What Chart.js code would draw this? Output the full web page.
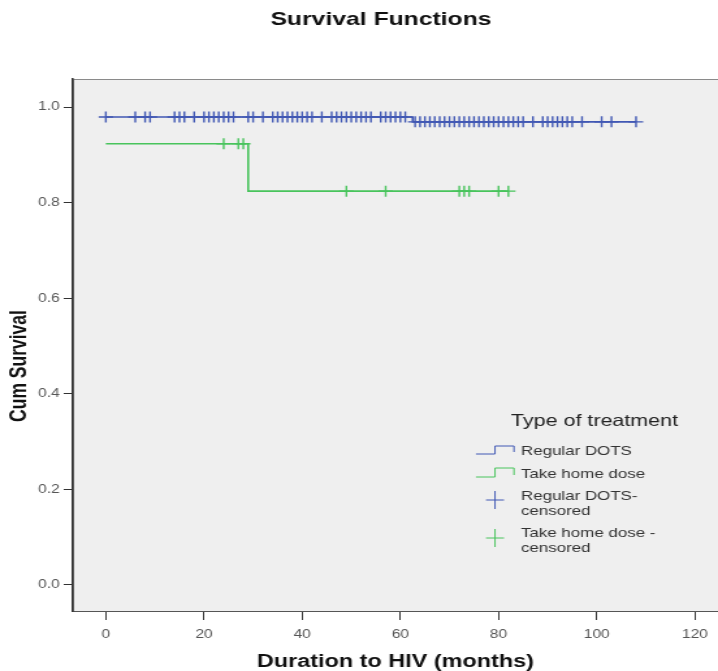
<!DOCTYPE html>
<html>
<head>
<meta charset="utf-8">
<title>Survival Functions</title>
<script src="https://cdn.jsdelivr.net/npm/chart.js@4/dist/chart.umd.min.js"></script>
<style>
  html, body { margin: 0; padding: 0; background: #ffffff; }
  #wrap { width: 718px; height: 671px; overflow: hidden; }
  /* the source picture is stretched sideways, so the canvas is too */
  #chart { display: block; width: 718px; height: 671px; }
</style>
</head>
<body>
<div id="wrap">
  <canvas id="chart" width="552" height="671" style="width:718px;height:671px"></canvas>
</div>
<script>
// --- data ---
const regularCurveTime = [0, 62.5, 108];
const regularCurveSurv = [0.979, 0.969, 0.969];
const regularCensored = [0, 6, 8, 9, 14, 15, 16, 18, 20, 21, 22, 23, 24, 25, 26, 29, 30, 32,
  34, 35, 36, 37, 38, 39, 40, 41, 42, 44, 46, 47, 48, 49, 50, 51, 52, 53, 54, 56, 57, 58,
  59, 60, 61, 63, 64, 65, 66, 67, 68, 69, 70, 71, 72, 73, 74, 75, 76, 77, 78, 79, 80, 81,
  82, 83, 84, 85, 87, 89, 90, 91, 92, 93, 94, 95, 97, 101, 103, 108];

const takeHomeCurveTime = [0, 29, 82];
const takeHomeCurveSurv = [0.923, 0.824, 0.824];
const takeHomeCensored = [24, 27, 28, 49, 57, 72, 73, 74, 80, 82];

const xTickValues = [0, 20, 40, 60, 80, 100, 120];
const yTickValues = [0, 0.2, 0.4, 0.6, 0.8, 1.0];

const seriesNames = ['Regular DOTS', 'Take home dose'];
const legendLabels = [['Regular DOTS'], ['Take home dose'], ['Regular DOTS-', 'censored'], ['Take home dose -', 'censored']];

const BLUE = '#4158b4';
const GREEN = '#48c45c';
const SX = 718 / 552;   // horizontal stretch of the page

// survival value at time t
function survAt(times, survs, t) {
    let s = survs[0];
    for (let i = 0; i < times.length; i++) {
        if (t >= times[i]) s = survs[i];
    }
    return s;
}

function curvePoints(times, survs) {
    return times.map((t, i) => ({ x: t, y: survs[i] }));
}

function censorPoints(cens, times, survs) {
    return cens.map(t => ({ x: t, y: survAt(times, survs, t) }));
}

// background, frame, title, y title and legend
const decorPlugin = {
    id: 'decor',
    beforeDraw(chart) {
        const { ctx, chartArea: a } = chart;
        ctx.save();
        ctx.fillStyle = '#efefef';
        ctx.fillRect(a.left, a.top, a.right - a.left, a.bottom - a.top);
        ctx.strokeStyle = '#8a8a8a';
        ctx.lineWidth = 1;
        ctx.strokeRect(a.left + 0.5, a.top + 0.5, a.right - a.left, a.bottom - a.top);
        ctx.restore();
    },
    afterDraw(chart) {
        const ctx = chart.ctx;
        const X = v => v / SX;  // picture x -> canvas x
        ctx.save();
        ctx.fillStyle = '#111';
        ctx.textBaseline = 'middle';

        // chart title
        ctx.textAlign = 'center';
        ctx.font = 'bold 19px "Liberation Sans", Arial, sans-serif';
        ctx.fillText('Survival Functions', X(381), 20);

        // y axis title
        ctx.save();
        ctx.translate(X(20), 366);
        ctx.rotate(-Math.PI / 2);
        ctx.font = 'bold 17.5px "Liberation Sans", Arial, sans-serif';
        ctx.fillText('Cum Survival', 0, 0);
        ctx.restore();

        // legend
        ctx.textAlign = 'left';
        ctx.fillStyle = '#222';
        ctx.font = '16.5px "Liberation Sans", Arial, sans-serif';
        ctx.fillText('Type of treatment', X(511), 421);

        ctx.lineWidth = 1;
        const steps = [[BLUE, 454, 446], [GREEN, 477, 468]];
        steps.forEach(([col, lo, hi]) => {
            ctx.strokeStyle = col;
            ctx.beginPath();
            ctx.moveTo(X(476), lo);
            ctx.lineTo(X(495), lo);
            ctx.lineTo(X(495), hi);
            ctx.lineTo(X(514), hi);
            ctx.lineTo(X(514), lo - 2);
            ctx.stroke();
        });
        const crosses = [[BLUE, 500], [GREEN, 538]];
        crosses.forEach(([col, cy]) => {
            ctx.strokeStyle = col;
            ctx.beginPath();
            ctx.moveTo(X(486), cy);
            ctx.lineTo(X(504), cy);
            ctx.moveTo(X(495), cy - 9);
            ctx.lineTo(X(495), cy + 9);
            ctx.stroke();
        });

        ctx.fillStyle = '#333';
        ctx.font = '13px "Liberation Sans", Arial, sans-serif';
        const textRows = [[451], [474], [496, 511], [533, 548]];
        legendLabels.forEach((lines, i) => {
            lines.forEach((line, j) => ctx.fillText(line, X(521), textRows[i][j]));
        });
        ctx.restore();
    }
};

const tickFont = { family: '"Liberation Sans", Arial, sans-serif', size: 12 };

// no extra room for labels: the plot runs to the right edge
function noPadding(s) {
    s.paddingLeft = 0;
    s.paddingRight = 0;
    s.paddingTop = 0;
    s.paddingBottom = 0;
}

new Chart(document.getElementById('chart'), {
    type: 'scatter',
    data: {
        datasets: [
            {
                label: seriesNames[0],
                data: curvePoints(regularCurveTime, regularCurveSurv),
                showLine: true,
                stepped: true,
                borderColor: BLUE,
                borderWidth: 1.6,
                pointRadius: 0,
                order: 3
            },
            {
                label: seriesNames[1],
                data: curvePoints(takeHomeCurveTime, takeHomeCurveSurv),
                showLine: true,
                stepped: true,
                borderColor: GREEN,
                borderWidth: 1.6,
                pointRadius: 0,
                order: 2
            },
            {
                label: seriesNames[0] + '-censored',
                data: censorPoints(regularCensored, regularCurveTime, regularCurveSurv),
                pointStyle: 'cross',
                pointRadius: 5.5,
                borderColor: BLUE,
                borderWidth: 1.4,
                order: 1
            },
            {
                label: seriesNames[1] + ' -censored',
                data: censorPoints(takeHomeCensored, takeHomeCurveTime, takeHomeCurveSurv),
                pointStyle: 'cross',
                pointRadius: 5.5,
                borderColor: GREEN,
                borderWidth: 1.4,
                order: 0
            }
        ]
    },
    options: {
        responsive: false,
        animation: false,
        events: [],
        layout: { autoPadding: false, padding: { top: 79, left: 0, right: 0, bottom: 0 } },
        plugins: {
            legend: { display: false },
            title: { display: false },
            tooltip: { enabled: false }
        },
        scales: {
            x: {
                type: 'linear',
                min: -6.72,
                max: 124.7,
                afterBuildTicks: s => { s.ticks = xTickValues.map(v => ({ value: v })); },
                afterFit: s => { s.height = 60; noPadding(s); },
                grid: { drawOnChartArea: false, drawTicks: true, tickLength: 9, color: '#333', lineWidth: 1 },
                border: { display: true, color: '#555', width: 1 },
                ticks: { font: tickFont, color: '#555', padding: 7, maxRotation: 0 },
                title: {
                    display: true,
                    text: 'Duration to HIV (months)',
                    color: '#111',
                    font: { family: '"Liberation Sans", Arial, sans-serif', size: 18, weight: 'bold' },
                    padding: { top: 0, bottom: -2 }
                }
            },
            y: {
                type: 'linear',
                min: -0.0544,
                max: 1.0586,
                afterBuildTicks: s => { s.ticks = yTickValues.map(v => ({ value: v })); },
                afterFit: s => { s.width = 56; noPadding(s); },
                grid: { drawOnChartArea: false, drawTicks: true, tickLength: 7, color: '#333', lineWidth: 1 },
                border: { display: true, color: '#333', width: 1.6 },
                ticks: { font: tickFont, color: '#555', padding: 3, callback: v => v.toFixed(1) }
            }
        }
    },
    plugins: [decorPlugin]
});
</script>
</body>
</html>
